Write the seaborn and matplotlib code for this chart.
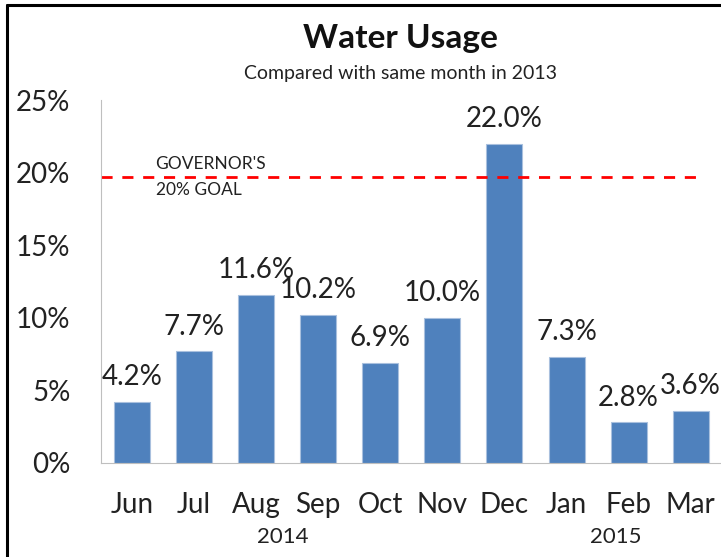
import numpy as np
import pandas as pd
import matplotlib
matplotlib.use("Agg")
import matplotlib.pyplot as plt
import matplotlib.transforms as mtransforms
from matplotlib.lines import Line2D
import seaborn as sns

# data
months = ["Jun", "Jul", "Aug", "Sep", "Oct", "Nov", "Dec", "Jan", "Feb", "Mar"]
usage = [4.2, 7.7, 11.6, 10.2, 6.9, 10.0, 22.0, 7.3, 2.8, 3.6]
years = ["2014", "2015"]
year_pos = [2.43, 7.79]
goal = 19.7
yticks = [0, 5, 10, 15, 20, 25]

sns.set_style("white")
plt.rcParams['font.family'] = ['Lato', 'DejaVu Sans']

df = pd.DataFrame({"month": months, "usage": usage})

fig = plt.figure(figsize=(7.21, 5.57), dpi=100)
ax = fig.add_axes([0.140, 0.169, 0.861, 0.651])

sns.barplot(data=df, x="month", y="usage", color="#4F81BD", saturation=1,
            width=0.58, edgecolor="#A9C0DE", linewidth=0.8, ax=ax)

# value labels
for i, v in enumerate(usage):
    ax.text(i, v + 0.8, f"{v:.1f}%", ha="center", va="bottom", fontsize=20, color="#222222")

# governor's goal line
ax.plot([-0.5, 9.2], [goal, goal], color="#FF0000", ls=(0, (4, 3.5)), lw=2)
ax.text(0.38, goal + 0.35, "GOVERNOR'S", fontsize=12.5, ha="left", va="bottom", color="#222222")
ax.text(0.38, goal - 0.35, "20% GOAL", fontsize=12.5, ha="left", va="top", color="#222222")

ax.set_xlim(-0.5, 9.5)
ax.set_ylim(0, 25)
ax.set_yticks(yticks)
ax.set_yticklabels([f"{t}%" for t in yticks])
ax.tick_params(axis="y", length=0, pad=22, labelsize=20, labelcolor="#222222")
ax.tick_params(axis="x", length=0, pad=21, labelsize=20, labelcolor="#222222")
ax.set_xlabel("")
ax.set_ylabel("")

for s in ["top", "right"]:
    ax.spines[s].set_visible(False)
ax.spines["left"].set_color("#BFBFBF")
ax.spines["bottom"].set_color("#BFBFBF")

trans = mtransforms.blended_transform_factory(ax.transData, ax.transAxes)
for y, x in zip(years, year_pos):
    ax.text(x, -0.205, y, transform=trans, ha="center", va="center",
            fontsize=16, color="#222222")

fig.text(0.555, 0.93, "Water Usage", ha="center", va="center",
         fontsize=24, fontweight="bold", color="#111111")
fig.text(0.555, 0.868, "Compared with same month in 2013", ha="center", va="center",
         fontsize=14, color="#222222")

# frame around the picture (left and top edges visible)
fig.add_artist(Line2D([0.0097, 0.0097], [0, 0.991], transform=fig.transFigure,
                      color="black", lw=2.2))
fig.add_artist(Line2D([0.0097, 1.0], [0.991, 0.991], transform=fig.transFigure,
                      color="black", lw=2.2))

fig.savefig("out.png", dpi=100)
